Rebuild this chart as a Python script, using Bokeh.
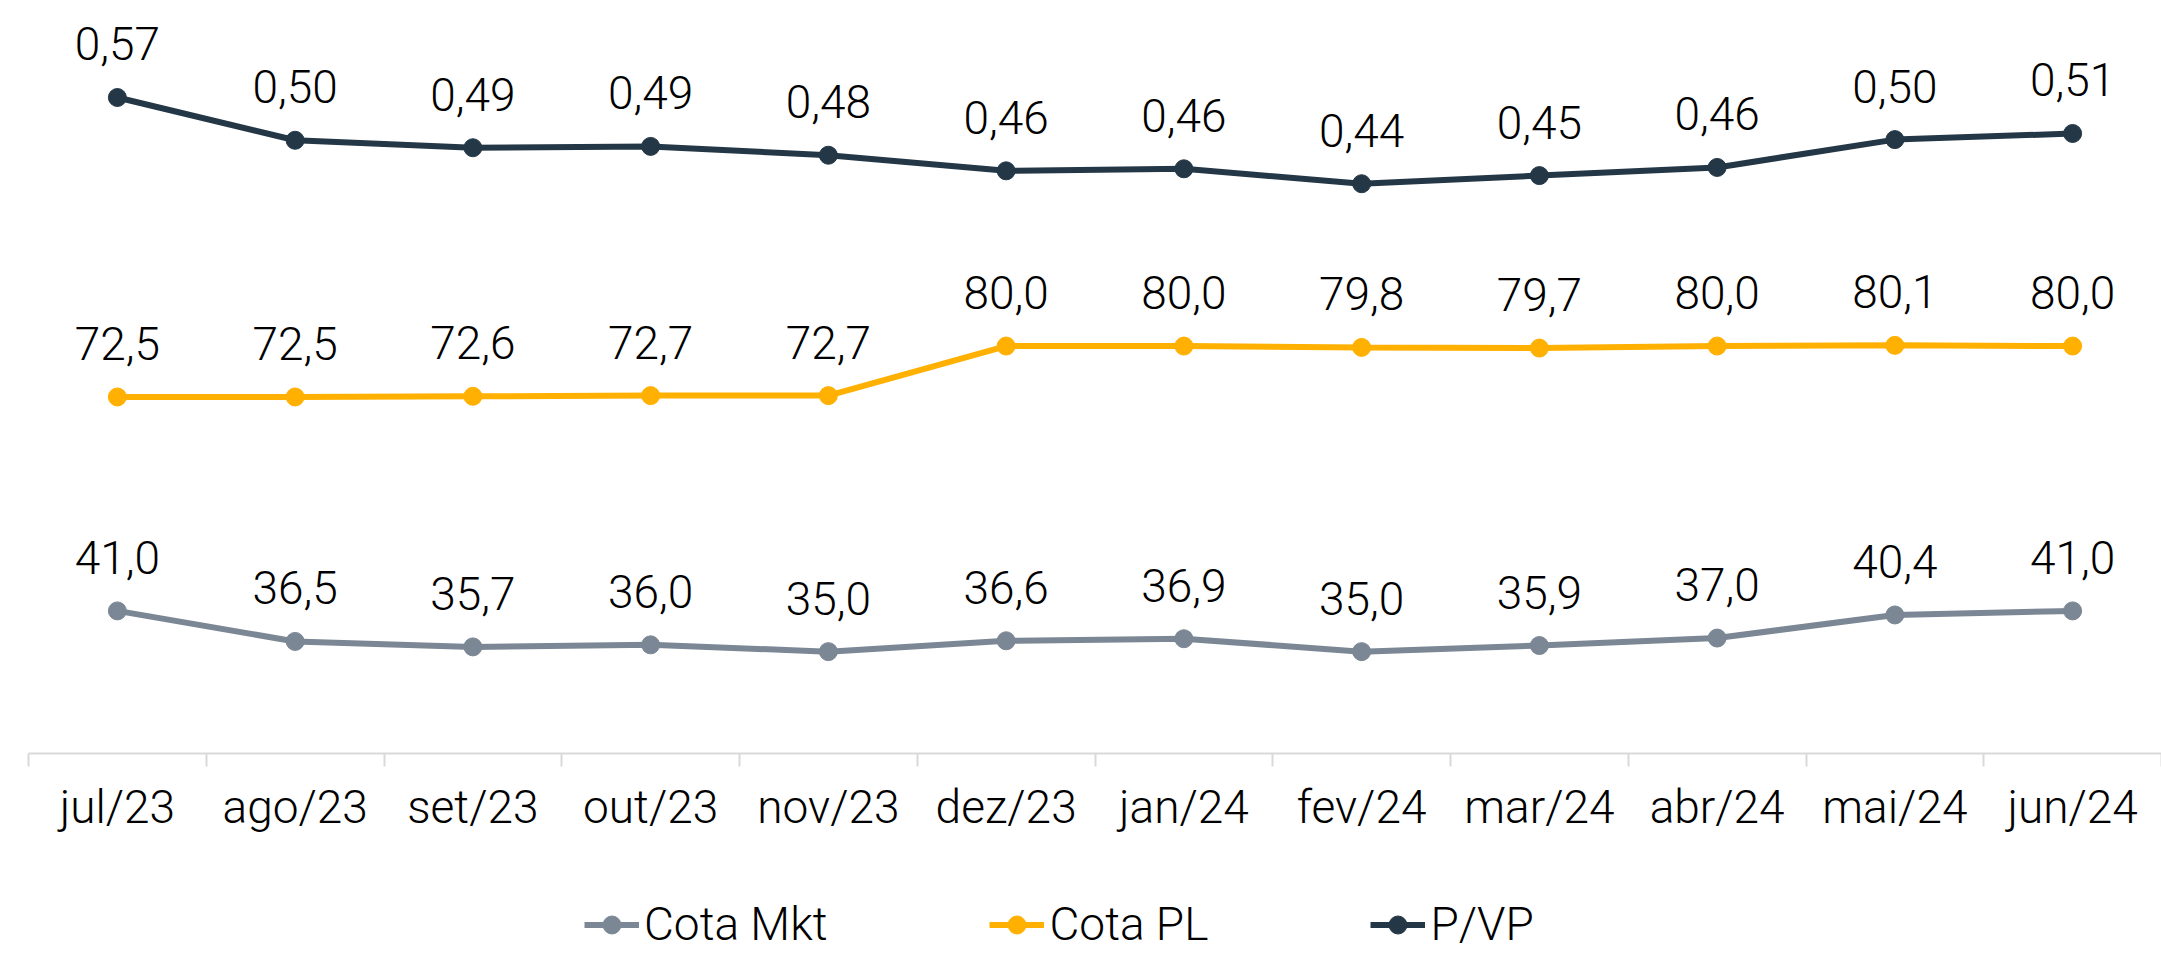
from bokeh.plotting import figure
from bokeh.layouts import column
from bokeh.models import (ColumnDataSource, FactorRange, Range1d, LinearAxis, LinearScale,
                          FixedTicker, LabelSet, Legend, LegendItem)
from bokeh.embed import file_html
from bokeh.resources import INLINE
from bokeh.core.properties import value

categories = ["jul/23", "ago/23", "set/23", "out/23", "nov/23", "dez/23",
              "jan/24", "fev/24", "mar/24", "abr/24", "mai/24", "jun/24"]
cota_mkt = [41.0, 36.5, 35.7, 36.0, 35.0, 36.6, 36.9, 35.0, 35.9, 37.0, 40.4, 41.0]
cota_pl = [72.5, 72.5, 72.6, 72.7, 72.7, 80.0, 80.0, 79.8, 79.7, 80.0, 80.1, 80.0]
pvp = [0.566, 0.503, 0.492, 0.494, 0.481, 0.458, 0.461, 0.439, 0.451, 0.463, 0.504, 0.513]

FONT = "Roboto Light, Roboto"
FS = "46px"
C_MKT = "#7b8794"
C_PL = "#ffb000"
C_PVP = "#243746"


def fmt(v, d):
    return f"{v:.{d}f}".replace(".", ",")


x_range = FactorRange(*categories, range_padding=0)
p = figure(frame_width=2133, frame_height=747,
           x_range=x_range,
           y_range=Range1d(20, 130),
           output_backend="svg", toolbar_location=None,
           x_axis_location=None, y_axis_location=None,
           min_border_left=28, min_border_right=0, min_border_top=6,
           min_border_bottom=110, outline_line_color=None,
           background_fill_color="white", border_fill_color="white")
p.xgrid.visible = False
p.ygrid.visible = False
p.extra_y_ranges = {"pvp": Range1d(-0.4, 0.7)}
p.extra_y_scales = {"pvp": LinearScale()}

# synthetic categorical coordinates: centers at i+0.5, boundaries at integers
centers = [i + 0.5 for i in range(len(categories))]
bounds = list(range(len(categories) + 1))
xaxis = LinearAxis(ticker=FixedTicker(ticks=centers, minor_ticks=bounds),
                   major_label_overrides={c: cat for c, cat in zip(centers, categories)},
                   axis_line_color="#d9d9d9", axis_line_width=2,
                   major_tick_line_color=None, major_tick_out=0, major_tick_in=0,
                   minor_tick_line_color="#d9d9d9", minor_tick_line_width=2,
                   minor_tick_out=13, minor_tick_in=0,
                   major_label_standoff=13,
                   major_label_text_font=FONT, major_label_text_font_size=FS,
                   major_label_text_color="#000000")
p.add_layout(xaxis, "below")

# legend strip below the chart (its own frame, so the legend is not clipped)
lg = figure(width=2161, height=92, x_range=x_range, y_range=Range1d(200, 300),
            output_backend="svg", toolbar_location=None,
            x_axis_location=None, y_axis_location=None,
            min_border_left=28, min_border_right=0, min_border_top=0, min_border_bottom=0,
            outline_line_color=None, background_fill_color="white",
            border_fill_color="white")
lg.xgrid.visible = False
lg.ygrid.visible = False

series = [("Cota Mkt", cota_mkt, C_MKT, "default", 1),
          ("Cota PL", cota_pl, C_PL, "default", 1),
          ("P/VP", pvp, C_PVP, "pvp", 2)]
items = []
for name, vals, col, yr, dec in series:
    src = ColumnDataSource(dict(x=categories, y=vals, t=[fmt(v, dec) for v in vals]))
    p.line("x", "y", source=src, line_color=col, line_width=6, y_range_name=yr)
    p.scatter("x", "y", source=src, size=18, fill_color=col, line_color=col,
              line_width=1, y_range_name=yr)
    p.add_layout(LabelSet(x="x", y="y", text="t", source=src, y_range_name=yr,
                          y_offset=37, text_align="center", text_baseline="alphabetic",
                          text_font=value(FONT), text_font_size=FS, text_color="#000000"))
    # same series in the legend strip (out of its visible y range) for the legend glyphs
    ln = lg.line("x", "y", source=src, line_color=col, line_width=6)
    sc = lg.scatter("x", "y", source=src, size=18, fill_color=col, line_color=col)
    items.append(LegendItem(label=name, renderers=[ln, sc]))

legend = Legend(items=items, location=(556, 4), orientation="horizontal",
                glyph_width=55, glyph_height=45, label_standoff=5,
                spacing=162, padding=0, margin=0, border_line_color=None,
                background_fill_alpha=0,
                label_text_font=FONT, label_text_font_size=FS, label_text_color="#000000")
lg.add_layout(legend, "center")

open("out.html", "w").write(file_html(column(p, lg, spacing=0), INLINE))
